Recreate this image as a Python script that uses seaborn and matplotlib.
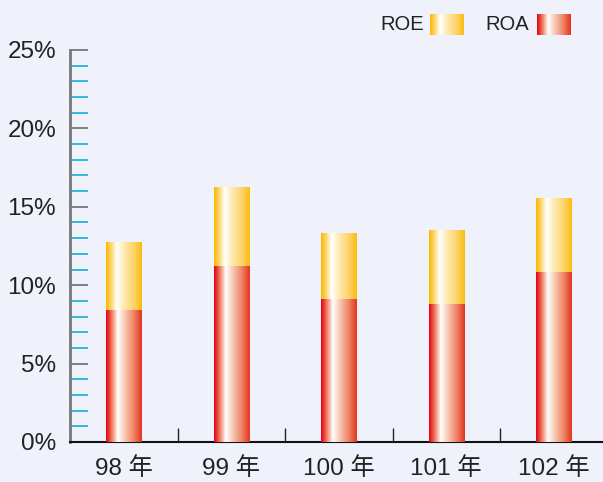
import numpy as np
import pandas as pd
import matplotlib
matplotlib.use("Agg")
import matplotlib.pyplot as plt
from matplotlib.colors import LinearSegmentedColormap
import seaborn as sns

years = ["98 年", "99 年", "100 年", "101 年", "102 年"]
roe = [12.7, 16.2, 13.3, 13.5, 15.5]
roa = [8.4, 11.2, 9.1, 8.8, 10.8]
ytick_labels = ["0%", "5%", "10%", "15%", "20%", "25%"]

BG = "#EFF2FA"
sns.set_theme(style="white")
plt.rcParams["font.family"] = ["Liberation Sans", "Noto Sans CJK TC", "DejaVu Sans"]
plt.rcParams["axes.facecolor"] = BG
plt.rcParams["figure.facecolor"] = BG

roe_cmap = LinearSegmentedColormap.from_list("roe", [
    (0.0, "#FBB800"), (0.12, "#FDD05A"), (0.30, "#FFFFFF"),
    (0.50, "#FEEAB4"), (0.78, "#FDD26A"), (1.0, "#FBBD0A")])
roa_cmap = LinearSegmentedColormap.from_list("roa", [
    (0.0, "#E3001B"), (0.08, "#EA3A30"), (0.22, "#F5A890"), (0.33, "#FFFFFF"),
    (0.50, "#F8CFBC"), (0.78, "#EE8262"), (1.0, "#E3341F")])
grad = np.linspace(0, 1, 256).reshape(1, -1)

fig = plt.figure(figsize=(6.03, 4.82), dpi=100)
ax = fig.add_axes([70 / 603, 40 / 482, 537.5 / 603, 392 / 482])

df_roe = pd.DataFrame({"year": years, "value": roe})
df_roa = pd.DataFrame({"year": years, "value": roa})
sns.barplot(data=df_roe, x="year", y="value", ax=ax, width=0.33, color="#FBB800", errorbar=None)
n_roe = len(ax.patches)
sns.barplot(data=df_roa, x="year", y="value", ax=ax, width=0.33, color="#E3001B", errorbar=None)

ax.set_xlim(-0.5, 4.5)
ax.set_ylim(0, 25)
for i, p in enumerate(ax.patches):
    x0, y0 = p.get_x(), p.get_y()
    w, h = p.get_width(), p.get_height()
    cmap = roe_cmap if i < n_roe else roa_cmap
    ax.imshow(grad, cmap=cmap, extent=(x0, x0 + w, y0, y0 + h),
              aspect="auto", zorder=2 if i < n_roe else 3, interpolation="bilinear")
    p.set_facecolor("none")
    p.set_edgecolor("none")
ax.set_xlim(-0.5, 4.5)
ax.set_ylim(0, 25)

ax.set_xlabel("")
ax.set_ylabel("")
ax.set_yticks(np.arange(0, 26, 5))
ax.set_yticklabels(ytick_labels)
ax.set_yticks([v for v in range(26) if v % 5], minor=True)
ax.tick_params(axis="y", which="both", left=True, direction="in", length=13, width=1.3,
               labelsize=17.5, pad=10, labelcolor="#222222")
ax.tick_params(axis="y", which="major", color="#777777")
ax.tick_params(axis="y", which="minor", color="#22B4DC")

ax.set_xticks([0.5, 1.5, 2.5, 3.5], minor=True)
ax.tick_params(axis="x", which="major", length=0, labelsize=17.5, pad=11, labelcolor="#222222")
ax.tick_params(axis="x", which="minor", direction="in", length=10, width=1, color="#222222", bottom=True)

for s in ["top", "right"]:
    ax.spines[s].set_visible(False)
ax.spines["left"].set_color("#777777")
ax.spines["left"].set_linewidth(2)
ax.spines["bottom"].set_color("#111111")
ax.spines["bottom"].set_linewidth(1.5)

# legend
fig.text(380 / 603, 1 - 25 / 482, "ROE", fontsize=14.5, va="center", ha="left", color="#222222")
fig.text(485 / 603, 1 - 25 / 482, "ROA", fontsize=14.5, va="center", ha="left", color="#222222")
for x0, cmap in [(430, roe_cmap), (537, roa_cmap)]:
    lax = fig.add_axes([x0 / 603, 1 - 35 / 482, 34 / 603, 21 / 482])
    lax.imshow(grad, cmap=cmap, aspect="auto", interpolation="bilinear")
    lax.axis("off")

fig.canvas.draw()
for t, v in zip(ax.yaxis.get_major_ticks(), range(0, 26, 5)):
    t.tick1line.set_color("#000000" if v in (10, 20) else "#777777")

fig.savefig("out.png", dpi=100, facecolor=BG)
